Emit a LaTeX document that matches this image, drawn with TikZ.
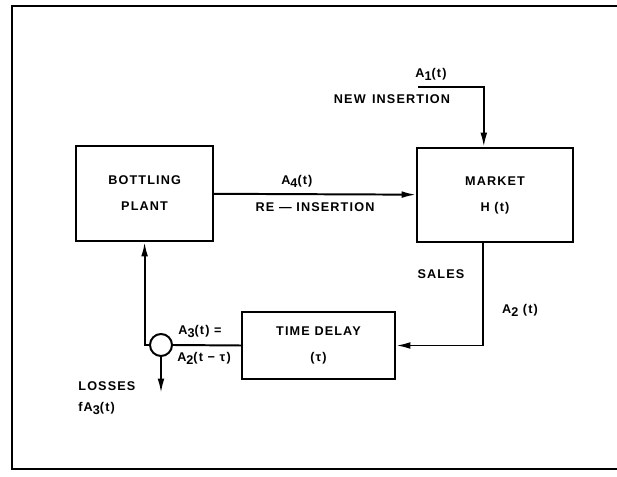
\documentclass[tikz,border=0pt]{standalone}
\usepackage{fontspec}
\setmainfont{Liberation Sans}
\newfontfamily\lettered[LetterSpace=9, Ligatures=TeX]{Liberation Sans Bold}
\newcommand\lowidx[1]{\raisebox{-0.45ex}{\small #1}}
\usetikzlibrary{arrows.meta,positioning}

\begin{document}
\begin{tikzpicture}[
		x=0.025cm, y=-0.025cm,
		line width=1.4pt,
		block/.style={rectangle, draw, align=center, inner sep=0pt, font=\lettered\fontsize{9}{18.5}\selectfont},
		tag/.style={inner sep=1pt, align=left, font=\lettered\fontsize{9}{15}\selectfont},
		flow/.style={-{Latex[length=0.36cm, width=0.17cm]}}
	]
	\useasboundingbox (0,0) rectangle (617,477);
	% outer frame
	\draw[line width=1.8pt] (620,6) -- (12,6) -- (12,469) -- (620,469);

	\node[block, minimum width=3.425cm, minimum height=2.375cm] (Plant) at (144.6,193.5) {BOTTLING\\PLANT};
	\node[block, minimum width=3.9cm, minimum height=2.35cm] (Market) at (495,195) {MARKET\\H (t)};
	\node[block, minimum width=3.825cm, minimum height=1.675cm] (Delay) at (318.5,345.5) {TIME DELAY\\(τ)};
	\node[circle, draw, minimum size=0.55cm, inner sep=0pt] (Junc) at (161,345) {};

	\coordinate (NewIn) at (418,87);
	\coordinate (LossEnd) at (161,393);

	\draw[flow] (Plant) -- node[tag, pos=0.41, above=3pt] {A\lowidx{4}(t)} node[tag, below=4pt] {RE — INSERTION} (Market);
	\draw[flow] (NewIn) -| ([xshift=-0.28cm]Market.north);
	\draw[flow] ([xshift=-0.3cm]Market.south) |- (Delay.east);
	\draw (Delay.west) -- (Junc.east);
	\draw[flow] (Junc.west) -| (Plant.south);
	\draw[flow] (Junc.south) -- (LossEnd);

	\node[tag] (A1) at (431,74) {A\lowidx{1}(t)};
	\node[tag] (NewLbl) at (392,99) {NEW\enspace INSERTION};
	\node[tag] (SalesLbl) at (441,274) {SALES};
	\node[tag] (A2) at (520,310) {A\lowidx{2} (t)};
	\node[tag] (A3) at (200,331) {A\lowidx{3}(t) =};
	\node[tag] (A2d) at (204,358) {A\lowidx{2}(t − τ)};
	\node[tag, anchor=west] (LossLbl) at (76,386) {LOSSES};
	\node[tag, anchor=west] (LossEq) at (76,408) {fA\lowidx{3}(t)};
\end{tikzpicture}
\end{document}
